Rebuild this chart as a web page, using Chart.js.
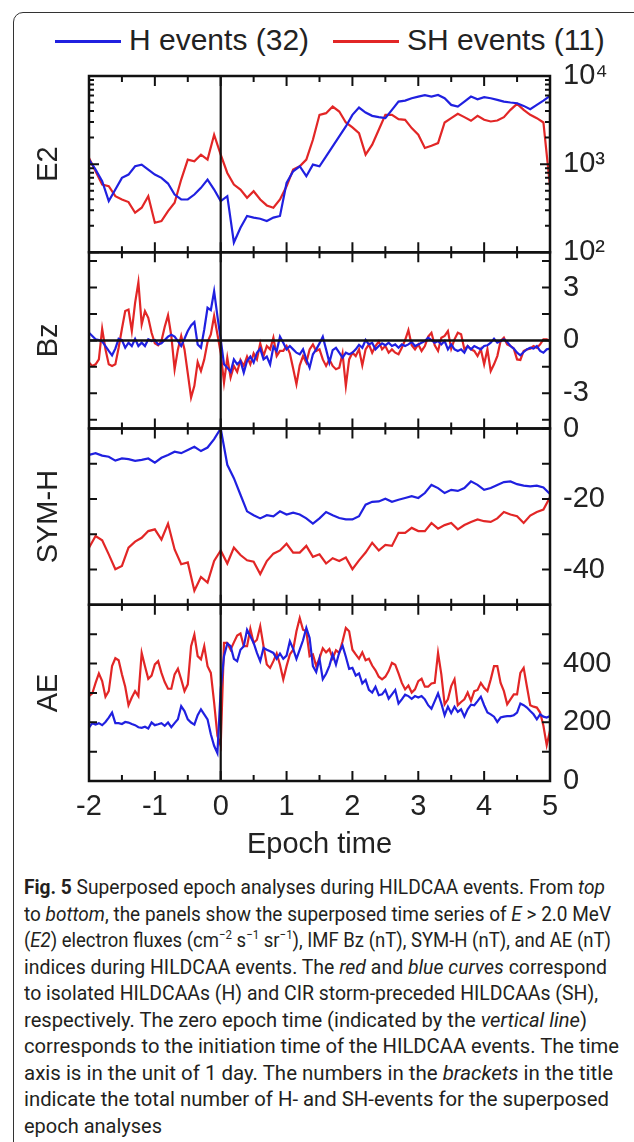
<!DOCTYPE html>
<html>
<head>
<meta charset="utf-8">
<title>Superposed epoch analyses during HILDCAA events</title>
<script src="https://cdn.jsdelivr.net/npm/chart.js@4.4.1/dist/chart.umd.min.js"></script>
<style>
  html, body { margin: 0; padding: 0; background: #fff; }
  body { width: 634px; height: 1142px; position: relative; overflow: hidden; }
  #frame {
    position: absolute; left: 13px; top: 12px; width: 660px; height: 1200px;
    border: 1.5px solid #333; border-radius: 10px; box-sizing: border-box;
  }
  #epochChart { position: absolute; left: 0; top: 0; }
  .key { position: absolute; top: 40px; height: 2.5px; width: 66px; }
  .keyText {
    position: absolute; top: 22px; line-height: 36px; font-size: 30px;
    font-family: 'Liberation Sans', Arial, sans-serif; color: #222; white-space: nowrap;
  }
  #caption {
    position: absolute; left: 24px; top: 874px;
    font-family: Roboto, 'Noto Sans', sans-serif; font-size: 21px; line-height: 26.5px;
    color: #231f20;
  }
  #caption .cl {
    display: block; width: max-content; height: 26.5px; white-space: nowrap;
    transform-origin: 0 0;
  }
  #caption sup { font-size: 13px; line-height: 0; }
</style>
</head>
<body>
<div id="frame"></div>
<div class="key" id="keyH" style="left:55px"></div>
<div class="keyText" id="labelH" style="left:129px">H events (32)</div>
<div class="key" id="keySH" style="left:333px"></div>
<div class="keyText" id="labelSH" style="left:407px">SH events (11)</div>
<canvas id="epochChart" width="634" height="862"></canvas>
<div id="caption">
<span class="cl"><b>Fig. 5</b> Superposed epoch analyses during HILDCAA events. From <i>top</i></span>
<span class="cl">to <i>bottom</i>, the panels show the superposed time series of <i>E</i> &gt; 2.0 MeV</span>
<span class="cl">(<i>E2</i>) electron fluxes (cm<sup>−2</sup> s<sup>−1</sup> sr<sup>−1</sup>), IMF Bz (nT), SYM-H (nT), and AE (nT)</span>
<span class="cl">indices during HILDCAA events. The <i>red</i> and <i>blue curves</i> correspond</span>
<span class="cl">to isolated HILDCAAs (H) and CIR storm-preceded HILDCAAs (SH),</span>
<span class="cl">respectively. The zero epoch time (indicated by the <i>vertical line</i>)</span>
<span class="cl">corresponds to the initiation time of the HILDCAA events. The time</span>
<span class="cl">axis is in the unit of 1 day. The numbers in the <i>brackets</i> in the title</span>
<span class="cl">indicate the total number of H- and SH-events for the superposed</span>
<span class="cl">epoch analyses</span>
</div>
<script>
'use strict';

// ── Colours ──
const blue = '#2020e0';
const red = '#e22626';
document.getElementById('keyH').style.background = blue;
document.getElementById('keySH').style.background = red;

// ── Epoch time grids (days) ──
const epoch10 = [-2,-1.9,-1.8,-1.7,-1.6,-1.5,-1.4,-1.3,-1.2,-1.1,-1,-0.9,-0.8,-0.7,-0.6,-0.5,-0.4,-0.3,-0.2,-0.1,
  0,0.1,0.2,0.3,0.4,0.5,0.6,0.7,0.8,0.9,1,1.1,1.2,1.3,1.4,1.5,1.6,1.7,1.8,1.9,
  2,2.1,2.2,2.3,2.4,2.5,2.6,2.7,2.8,2.9,3,3.1,3.2,3.3,3.4,3.5,3.6,3.7,3.8,3.9,
  4,4.1,4.2,4.3,4.4,4.5,4.6,4.7,4.8,4.9,5];
const epoch20 = [
  -2,-1.95,-1.9,-1.85,-1.8,-1.75,-1.7,-1.65,-1.6,-1.55,-1.5,-1.45,-1.4,-1.35,-1.3,-1.25,-1.2,-1.15,-1.1,-1.05,
  -1,-0.95,-0.9,-0.85,-0.8,-0.75,-0.7,-0.65,-0.6,-0.55,-0.5,-0.45,-0.4,-0.35,-0.3,-0.25,-0.2,-0.15,-0.1,-0.05,
  0,0.05,0.1,0.15,0.2,0.25,0.3,0.35,0.4,0.45,0.5,0.55,0.6,0.65,0.7,0.75,0.8,0.85,0.9,0.95,
  1,1.05,1.1,1.15,1.2,1.25,1.3,1.35,1.4,1.45,1.5,1.55,1.6,1.65,1.7,1.75,1.8,1.85,1.9,1.95,
  2,2.05,2.1,2.15,2.2,2.25,2.3,2.35,2.4,2.45,2.5,2.55,2.6,2.65,2.7,2.75,2.8,2.85,2.9,2.95,
  3,3.05,3.1,3.15,3.2,3.25,3.3,3.35,3.4,3.45,3.5,3.55,3.6,3.65,3.7,3.75,3.8,3.85,3.9,3.95,
  4,4.05,4.1,4.15,4.2,4.25,4.3,4.35,4.4,4.45,4.5,4.55,4.6,4.65,4.7,4.75,4.8,4.85,4.9,4.95,
  5];

// ── E > 2.0 MeV electron flux (cm^-2 s^-1 sr^-1), on epoch10 ──
const e2H = [1125,867,640,380,515,698,761,946,987,867,761,698,602,452,397,397,452,538,668,515,
  380,433,129,190,258,247,240,226,247,258,612,830,946,729,987,946,1227,1591,2065,2677,
  3625,4388,3852,3532,3413,3323,4130,5129,5263,5595,5838,6050,5838,6100,5595,4700,4500,5129,5838,5450,
  5740,5595,5355,5129,5000,4910,4580,4200,4700,5263,5940];
const e2SH = [1175,830,586,562,433,397,371,281,320,433,216,226,293,364,668,1125,1076,1280,1125,2155,
  1280,794,586,515,415,493,397,340,320,397,562,867,946,1125,1892,3625,3785,4500,3955,2970,
  2606,2250,1280,1660,2455,3625,3625,3236,3184,2564,2155,1524,1618,1734,2970,3323,3724,3413,3105,3532,
  3184,3048,3126,3413,4130,4830,4130,3625,3323,2970,562];

// ── IMF Bz (nT), on epoch20 ──
const bzH = [0.43,0.25,0.06,0.02,-0.06,-0.32,-0.6,-0.85,-0.47,0.09, 0.02,-0.42,-0.13,-0.32,0.09,-0.32,-0.13,-0.32,0.06,-0.04,
  0.02,-0.23,-0.17,0.02,0.21,0.32,0.21,-0.04,-0.32,0.09, 0.53,0.85,1.04,-0.23,-0.42,0.62,1.85,1.72,2.79,1.38,
  0.06,-1.36,-1.55,-1.79,-1.08,-1.36,-1.17,-1.83,-1.17,-0.92, -1.26,-0.7,-0.47,-1.08,-0.92,-1.36,-0.36,-0.6,0.21,-0.13,
  -0.51,-0.32,-0.51,-0.7,-0.79,-0.51,-1.08,-1.55,-0.79,-0.51, -0.17,0.21,-0.51,-1.26,-0.55,-0.42,-0.7,-0.98,-0.7,-0.79,
  -0.7,-0.51,-0.25,-0.42,0.02,-0.23,-0.13,-0.51,-0.32,-0.17, -0.28,-0.13,-0.32,-0.23,-0.42,-0.23,-0.32,-0.23,-0.09,-0.32,
  -0.23,-0.13,-0.04,0.15,0.02,-0.13,-0.04,-0.23,-0.04,-0.51, -0.23,-0.51,-0.6,-0.51,-0.7,-0.32,-0.51,-0.32,-0.42,-0.51,
  -0.32,-0.28,-0.13,0.09,-0.13,-0.04,0.06,-0.09,-0.32,-0.47, -0.7,-0.85,-0.66,-0.51,-0.42,-0.47,-0.32,-0.6,-0.7,-0.51,
  -0.47];
const bzSH = [-1.26,-1.45,-1.36,-1.08,0.66,-0.51,-1.36,-1.45,-1.36,-0.42, 0.66,1.66,1.75,0.53,2.13,3.3,0.91,1.66,1.28,0.43,
  -0.17,-0.28,-0.04,0.77,1.42,0.25,-1.64,-0.51,0.25,-0.51, -1.87,-3.25,-2.58,-1.23,-1.74,-1.08,-0.09,0.34,1.38,0.34,
  -0.7,-2.4,-0.98,-2.11,-1.45,-1.79,-1.11,-1.45,-0.92,-1.36, -0.74,-1.08,-0.17,-0.89,-0.32,-0.51,0.15,-0.89,-0.6,-0.6,
  -0.32,-0.74,-1.6,-2.49,-1.42,-0.89,-1.26,-0.51,-0.23,-0.6, -0.51,-1.08,-1.45,-1.08,-1.45,-1.64,-1.55,-0.74,-2.58,-1.08,
  -0.7,-0.89,-0.51,-1.42,-0.51,-0.23,-0.7,-0.32,-0.06,-0.51, -0.32,-0.7,-0.51,-0.7,-0.79,-0.42,0.02,0.58,-0.28,-0.51,
  -0.23,-0.6,-0.32,0.21,0.43,-0.28,-0.6,0.15,0.25,0.53, -0.47,0.06,0.43,0.34,-0.51,-0.32,-0.51,-0.6,-0.89,-0.51,
  -1.36,-0.51,-1.74,-1.36,-0.89,-0.04,0.15,-0.23,-0.32,-0.47, -1.08,-1.11,-0.6,-0.51,-0.47,-0.32,-0.42,-0.23,0.06,0.06,
  -0.04];

// ── SYM-H (nT), on epoch10 ──
const symH = [-7.5,-7.0,-7.7,-8.0,-9.1,-8.5,-8.7,-9.2,-8.9,-8.5, -9.7,-8.3,-7.5,-6.6,-7.0,-6.1,-5.2,-6.4,-5.4,-3.0,
  0,-10.3,-14.1,-18.8,-23.5,-24.6,-25.5,-24.6,-24.9,-23.5, -24.4,-23.9,-24.4,-25.5,-27.0,-25.5,-23.7,-24.6,-25.4,-25.8,
  -25.8,-24.9,-21.6,-20.8,-20.7,-19.9,-20.8,-20.2,-19.7,-19.2, -19.7,-18.3,-16.0,-16.9,-18.3,-17.4,-17.7,-16.9,-15.0,-16.0,
  -17.4,-16.9,-16.0,-15.2,-15.0,-15.8,-16.2,-16.4,-16.2,-16.7, -18.6];
const symSH = [-33.8,-30.5,-31.7,-35.7,-39.9,-39.0,-33.8,-32.1,-31.0,-29.1, -28.6,-31.5,-27.0,-34.3,-38.5,-38.0,-46.0,-42.1,-43.7,-37.6,
  -34.6,-38.3,-33.8,-35.9,-37.4,-37.8,-41.3,-37.6,-35.5,-34.6, -32.7,-35.2,-35.2,-33.3,-36.4,-35.7,-38.3,-36.8,-37.6,-36.6,
  -39.9,-37.4,-35.2,-32.4,-34.6,-33.0,-33.3,-29.6,-29.6,-28.2, -29.1,-29.1,-26.8,-28.4,-27.4,-26.8,-28.6,-27.4,-26.5,-25.8,
  -26.3,-26.5,-25.5,-23.7,-24.4,-24.9,-26.8,-24.7,-23.7,-23.0, -19.5];

// ── AE (nT), on epoch20 ──
const aeH = [182,197,192,197,190,201,216,233,197,197, 194,201,199,194,190,183,181,185,179,199,
  190,193,197,188,199,183,197,210,255,238, 210,199,192,224,244,227,210,159,120,95,
  312,425,468,459,416,408,447,459,515,493, 470,436,408,453,447,442,436,416,434,416,
  427,476,450,416,447,479,521,487,391,371, 416,347,365,392,431,396,438,461,423,382,
  385,359,366,332,344,310,301,321,292,295, 310,280,295,310,264,278,294,289,280,289,
  284,289,278,258,246,272,298,264,224,253, 231,253,235,244,219,244,260,258,272,287,
  258,233,227,219,201,216,219,221,221,224, 233,264,258,250,238,227,210,227,219,216,
  221];
const aeSH = [289,298,334,366,340,287,306,391,418,411, 363,321,258,284,306,289,436,391,348,359,
  397,408,368,337,314,314,363,382,346,306, 329,459,498,425,414,459,391,368,267,154,
  120,470,470,447,472,495,502,459,459,518, 470,481,527,459,397,385,408,434,396,346,
  391,431,447,510,555,515,510,425,431,391, 418,452,438,449,418,445,436,476,521,510,
  447,431,416,438,411,416,393,377,355,346, 355,374,402,396,366,334,312,325,301,312,
  340,348,321,321,332,334,436,363,261,278, 323,346,258,269,278,301,273,306,310,334,
  317,306,346,391,391,334,306,261,278,295, 295,368,385,321,258,253,250,233,188,122,
  171];

// ── Panels, ranges and ticks ──
const panelIds = ['yE2', 'yBz', 'ySym', 'yAE'];
const panelTitles = ['E2', 'Bz', 'SYM-H', 'AE'];
const panelMin = [100, -5, -50, 0];
const panelMax = [10000, 5, 0, 600];
const e2Ticks = [100, 1000, 10000];
const e2TickText = ['10²', '10³', '10⁴'];
const e2Minor = [200, 300, 400, 500, 600, 700, 800, 900, 2000, 3000, 4000, 5000, 6000, 7000, 8000, 9000];
const bzTicks = [-3, 0, 3];
const bzMinor = [-4.5, -1.5, 1.5, 4.5];
const symTicks = [-40, -20, 0];
const symMinor = [-30, -10];
const aeTicks = [0, 200, 400];
const aeMinor = [100, 300, 500];
const xTicks = [-2, -1, 0, 1, 2, 3, 4, 5];
const xMinor = [-1.5, -0.5, 0.5, 1.5, 2.5, 3.5, 4.5];

const panelTicks = [e2Ticks, bzTicks, symTicks, aeTicks];
const panelMinor = [e2Minor, bzMinor, symMinor, aeMinor];

const font = { family: "'Liberation Sans', Arial, sans-serif", size: 29 };
const textColor = '#222';

// caption line right edges in the figure (px), the font is narrowed to fit
const captionEnds = [605, 611, 611, 607, 598, 587, 619, 613, 609, 162];
function fitCaption() {
    document.querySelectorAll('#caption .cl').forEach((el, i) => {
        el.style.transform = 'none';
        const w = el.getBoundingClientRect().width;
        if (w > 0) el.style.transform = `scaleX(${(captionEnds[i] - 24) / w})`;
    });
}
fitCaption();
if (document.fonts) document.fonts.ready.then(fitCaption);

const pairs = (t, v) => t.map((x, i) => ({ x, y: v[i] }));

const line = (label, axis, t, v, color) => ({
    label, yAxisID: axis, data: pairs(t, v),
    borderColor: color, borderWidth: 2.2, pointRadius: 0, tension: 0, fill: false
});

function yScale(i) {
    const id = panelIds[i];
    return {
        type: id === 'yE2' ? 'logarithmic' : 'linear',
        position: 'right',
        stack: 'panels',
        stackWeight: 1,
        min: panelMin[i],
        max: panelMax[i],
        grid: { display: false, drawTicks: false },
        border: { display: false },
        ticks: {
            autoSkip: false,
            padding: 13,
            font, color: textColor,
            callback: (val) => id === 'yE2' ? e2TickText[e2Ticks.indexOf(val)] : String(val)
        },
        afterBuildTicks: (scale) => { scale.ticks = panelTicks[i].map(v => ({ value: v })); },
        afterFit: (scale) => { scale.width = 84; }
    };
}

// Frames, inward ticks, zero lines and panel titles
const panelFrame = {
    id: 'panelFrame',
    afterDatasetsDraw(chart) {
        const { ctx, chartArea } = chart;
        const xs = chart.scales.x;
        const left = chartArea.left, right = chartArea.right;
        ctx.save();
        ctx.strokeStyle = '#111';
        ctx.lineCap = 'butt';

        // vertical zero-epoch line
        const x0 = xs.getPixelForValue(0);
        ctx.lineWidth = 2.2;
        ctx.beginPath();
        ctx.moveTo(x0, chartArea.top);
        ctx.lineTo(x0, chartArea.bottom);
        ctx.stroke();

        // Bz zero line
        const yBz0 = chart.scales.yBz.getPixelForValue(0);
        ctx.lineWidth = 2.5;
        ctx.beginPath();
        ctx.moveTo(left, yBz0);
        ctx.lineTo(right, yBz0);
        ctx.stroke();

        panelIds.forEach((id, i) => {
            const ys = chart.scales[id];
            const top = ys.top, bottom = ys.bottom;

            ctx.lineWidth = 2;
            const hTick = (v, len) => {
                const py = ys.getPixelForValue(v);
                ctx.beginPath();
                ctx.moveTo(left, py); ctx.lineTo(left + len, py);
                ctx.moveTo(right, py); ctx.lineTo(right - len, py);
                ctx.stroke();
            };
            const isLog = id === 'yE2';
            panelTicks[i].forEach(v => hTick(v, isLog ? 10 : 8));
            panelMinor[i].forEach(v => hTick(v, isLog ? 5 : 8));

            const vTick = (v, len) => {
                const px = xs.getPixelForValue(v);
                ctx.beginPath();
                ctx.moveTo(px, top); ctx.lineTo(px, top + len);
                ctx.moveTo(px, bottom); ctx.lineTo(px, bottom - len);
                ctx.stroke();
            };
            xTicks.forEach(v => vTick(v, 10));
            xMinor.forEach(v => vTick(v, 6));

            ctx.lineWidth = 2.5;
            ctx.strokeRect(left, top, right - left, bottom - top);

            // panel title, rotated on the left
            ctx.save();
            ctx.fillStyle = textColor;
            ctx.font = `${font.size}px ${font.family}`;
            ctx.textAlign = 'center';
            ctx.textBaseline = 'middle';
            ctx.translate(49, (top + bottom) / 2);
            ctx.rotate(-Math.PI / 2);
            ctx.fillText(panelTitles[i], 0, 0);
            ctx.restore();
        });
        ctx.restore();
    }
};

new Chart(document.getElementById('epochChart'), {
    type: 'line',
    data: {
        datasets: [
            line('H events (32)', 'yE2', epoch10, e2H, blue),
            line('SH events (11)', 'yE2', epoch10, e2SH, red),
            line('H events (32)', 'yBz', epoch20, bzH, blue),
            line('SH events (11)', 'yBz', epoch20, bzSH, red),
            line('H events (32)', 'ySym', epoch10, symH, blue),
            line('SH events (11)', 'ySym', epoch10, symSH, red),
            line('H events (32)', 'yAE', epoch20, aeH, blue),
            line('SH events (11)', 'yAE', epoch20, aeSH, red)
        ]
    },
    options: {
        responsive: false,
        animation: false,
        layout: { padding: { left: 89, top: 76, right: 0, bottom: 0 } },
        plugins: { legend: { display: false }, tooltip: { enabled: false } },
        scales: {
            x: {
                type: 'linear',
                position: 'bottom',
                min: -2, max: 5,
                grid: { display: false, drawTicks: false },
                border: { display: false },
                ticks: { stepSize: 1, padding: 9, font, color: textColor, callback: (v) => String(v) },
                afterBuildTicks: (scale) => { scale.ticks = xTicks.map(v => ({ value: v })); },
                title: { display: true, text: 'Epoch time', font, color: textColor, padding: 0 },
                afterFit: (scale) => { scale.height = 81; }
            },
            yE2: yScale(0),
            yBz: yScale(1),
            ySym: yScale(2),
            yAE: yScale(3)
        }
    },
    plugins: [panelFrame]
});
</script>
</body>
</html>
